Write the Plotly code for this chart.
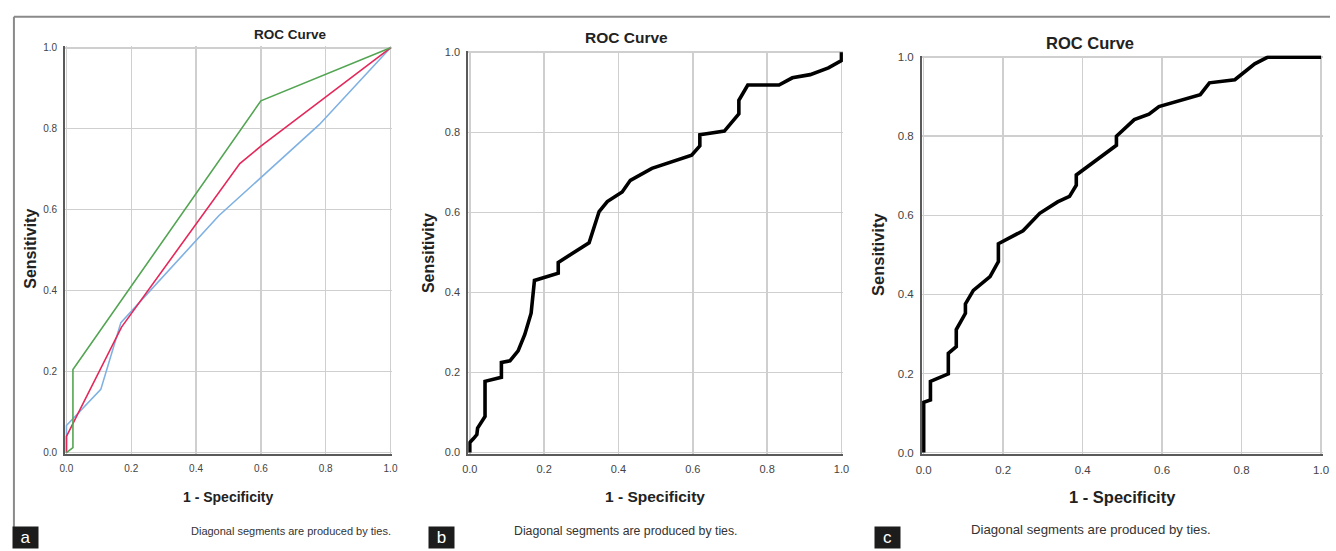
import plotly.graph_objects as go

W, H = 1336, 551

# ---------------- data ----------------
# Panel a (three ROC curves)
a_blue_x = [0, 0, 0.106, 0.168, 0.47, 0.78, 1.0]
a_blue_y = [0, 0.067, 0.156, 0.321, 0.585, 0.81, 1.0]
a_red_x = [0, 0, 0.17, 0.535, 0.6, 1.0]
a_red_y = [0, 0.04, 0.31, 0.714, 0.757, 1.0]
a_green_x = [0, 0.02, 0.02, 0.6, 1.0]
a_green_y = [0, 0.012, 0.205, 0.869, 1.0]

# Panel b
b_x = [0, 0, 0.01, 0.019, 0.021, 0.032, 0.041, 0.041, 0.085, 0.085,
       0.108, 0.13, 0.148, 0.165, 0.174, 0.238, 0.238, 0.321, 0.348, 0.37,
       0.41, 0.432, 0.49, 0.597, 0.619, 0.619, 0.685, 0.724, 0.724, 0.748,
       0.832, 0.868, 0.916, 0.965, 1.0, 1.0]
b_y = [0, 0.025, 0.035, 0.045, 0.061, 0.076, 0.09, 0.178, 0.188, 0.225,
       0.229, 0.254, 0.295, 0.348, 0.43, 0.448, 0.475, 0.524, 0.602, 0.627,
       0.651, 0.68, 0.71, 0.743, 0.766, 0.794, 0.803, 0.846, 0.88, 0.918,
       0.918, 0.936, 0.944, 0.961, 0.979, 1.0]

# Panel c
c_x = [0, 0, 0.017, 0.017, 0.062, 0.062, 0.082, 0.082, 0.105, 0.105,
       0.125, 0.167, 0.188, 0.188, 0.25, 0.292, 0.337, 0.367, 0.384, 0.384,
       0.485, 0.485, 0.53, 0.567, 0.592, 0.696, 0.719, 0.783, 0.833, 0.866,
       1.0]
c_y = [0, 0.127, 0.133, 0.18, 0.199, 0.251, 0.268, 0.311, 0.352, 0.376,
       0.41, 0.445, 0.483, 0.528, 0.561, 0.605, 0.634, 0.648, 0.676, 0.702,
       0.777, 0.8, 0.842, 0.856, 0.875, 0.905, 0.935, 0.943, 0.983, 1.0,
       1.0]

tick_vals = [0, 0.2, 0.4, 0.6, 0.8, 1.0]
tick_text = ["0.0", "0.2", "0.4", "0.6", "0.8", "1.0"]

title_text = "ROC Curve"
x_title = "1 - Specificity"
y_title = "Sensitivity"
footnote = "Diagonal segments are produced by ties."
panel_labels = ["a", "b", "c"]

# ---------------- layout helpers ----------------
def px(x):
    return x / W

def py(y):
    return 1 - y / H

E = 0.004  # small range padding so edge lines are not clipped

def xdom(x0, x1):
    s = x1 - x0
    return [px(x0 - s * E), px(x1 + s * E)]

def ydom(y0, y1):  # y0 = pixel of 0.0, y1 = pixel of 1.0
    s = y0 - y1
    return [py(y0 + s * E), py(y1 - s * E)]

# pixel geometry of each panel: (x of 0, x of 1, y of 0, y of 1)
panels = [
    (61, 388, 455, 43.5),
    (468, 843, 455, 48),
    (926, 1327, 455, 53),
]
tick_sizes = [10, 11, 11.5]

fig = go.Figure()

fig.add_trace(go.Scatter(x=a_blue_x, y=a_blue_y, mode="lines",
                         line=dict(color="#7fb1e3", width=1.6),
                         xaxis="x", yaxis="y", showlegend=False))
fig.add_trace(go.Scatter(x=a_red_x, y=a_red_y, mode="lines",
                         line=dict(color="#e4285a", width=1.6),
                         xaxis="x", yaxis="y", showlegend=False))
fig.add_trace(go.Scatter(x=a_green_x, y=a_green_y, mode="lines",
                         line=dict(color="#53a553", width=1.6),
                         xaxis="x", yaxis="y", showlegend=False))
fig.add_trace(go.Scatter(x=b_x, y=b_y, mode="lines",
                         line=dict(color="#000000", width=3.6),
                         xaxis="x2", yaxis="y2", showlegend=False))
fig.add_trace(go.Scatter(x=c_x, y=c_y, mode="lines",
                         line=dict(color="#000000", width=3.6),
                         xaxis="x3", yaxis="y3", showlegend=False))

layout = dict(
    width=W, height=H,
    margin=dict(l=0, r=0, t=0, b=0),
    paper_bgcolor="white", plot_bgcolor="white",
    font=dict(family="Arial", color="#333333"),
    showlegend=False,
)

for i, (x0, x1, y0, y1) in enumerate(panels):
    sfx = "" if i == 0 else str(i + 1)
    common = dict(
        range=[-E, 1 + E],
        tickvals=tick_vals, ticktext=tick_text,
        showgrid=True, gridcolor="#cfcfcf", gridwidth=1.5,
        zeroline=False,
        showline=True, linecolor="#5a5a5a", linewidth=2,
        ticks="", fixedrange=True,
        tickfont=dict(size=tick_sizes[i], color="#444444", family="Arial"),
    )
    layout["xaxis" + sfx] = dict(common, domain=xdom(x0, x1),
                                 anchor="y" + sfx, ticklabelstandoff=4)
    layout["yaxis" + sfx] = dict(common, domain=ydom(y0, y1),
                                 anchor="x" + sfx, ticklabelstandoff=4)

fig.update_layout(**layout)

# ---------------- text ----------------
ann = []

def txt(x, y, s, size, bold=False, angle=0, color="#222222"):
    ann.append(dict(
        x=px(x), y=py(y), xref="paper", yref="paper",
        text=("<b>%s</b>" % s) if bold else s,
        showarrow=False, xanchor="center", yanchor="middle",
        textangle=angle,
        font=dict(size=size, color=color, family="Arial"),
    ))

# titles
txt(287, 30, title_text, 13.5, bold=True)
txt(626, 33, title_text, 15.5, bold=True)
txt(1094, 39, title_text, 16.5, bold=True)
# x titles
txt(224, 500, x_title, 14, bold=True)
txt(655, 500, x_title, 15.5, bold=True)
txt(1127, 500, x_title, 16.5, bold=True)
# y titles
txt(25, 248, y_title, 16, bold=True, angle=-90)
txt(427, 252, y_title, 16, bold=True, angle=-90)
txt(880, 254, y_title, 16.5, bold=True, angle=-90)
# footnotes
txt(287.5, 535, footnote, 11, color="#333333")
txt(626, 535, footnote, 12.3, color="#333333")
txt(1095, 533.5, footnote, 13.2, color="#333333")

# panel letters
for lx, lab in zip([19.5, 439.5, 889.5], panel_labels):
    ann.append(dict(
        x=px(lx), y=py(541.5), xref="paper", yref="paper",
        text=lab, showarrow=False, xanchor="center", yanchor="middle",
        bgcolor="#1c1c1c", width=23, height=19,
        font=dict(size=17, color="white", family="Arial"),
    ))

fig.update_layout(annotations=ann)

# outer frame lines (top and left)
fig.add_shape(type="line", xref="paper", yref="paper",
              x0=px(8), x1=1, y0=py(12), y1=py(12),
              line=dict(color="#8a8a8a", width=2))
fig.add_shape(type="line", xref="paper", yref="paper",
              x0=px(8), x1=px(8), y0=py(12), y1=py(532),
              line=dict(color="#8a8a8a", width=2))

fig.write_html(
    "out.html",
    config={"displayModeBar": False, "staticPlot": True},
    post_script=(
        "document.documentElement.style.margin='0';"
        "document.body.style.margin='0';"
        "document.body.style.padding='0';"
        "document.body.style.overflow='hidden';"
    ),
)
